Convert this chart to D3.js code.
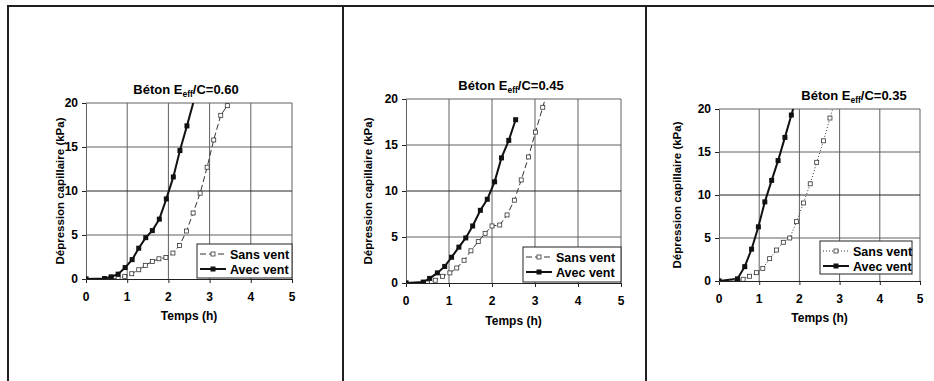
<!DOCTYPE html>
<html>
<head>
<meta charset="utf-8">
<script src="https://cdn.jsdelivr.net/npm/d3@7"></script>
<style>
  body { margin: 0; background: #fff; }
  svg { display: block; font-family: Arial, "Liberation Sans", sans-serif; }
</style>
</head>
<body>
<div class="chart"></div>
<script>
// --- data (temps en h, dépression en kPa)
const xTicks = [0, 1, 2, 3, 4, 5];
const yTicks = [0, 5, 10, 15, 20];
const seriesNames = ["Sans vent", "Avec vent"];
const titles = ["0.60", "0.45", "0.35"];

const sans060_t = [0, 0.45, 0.61, 0.78, 0.94, 1.11, 1.28, 1.44, 1.61, 1.77, 1.94, 2.11, 2.27, 2.44, 2.6, 2.77, 2.94, 3.1, 3.27, 3.43, 3.6];
const sans060_p = [0, 0, 0, 0.05, 0.3, 0.6, 1.05, 1.55, 2.0, 2.3, 2.45, 2.95, 3.8, 5.45, 7.5, 9.75, 12.7, 15.8, 18.6, 19.7, 23];
const avec060_t = [0, 0.45, 0.61, 0.78, 0.95, 1.12, 1.28, 1.45, 1.61, 1.78, 1.95, 2.12, 2.28, 2.45, 2.62];
const avec060_p = [0, 0.05, 0.25, 0.55, 1.3, 2.2, 3.5, 4.7, 5.5, 6.8, 9.1, 11.6, 14.6, 17.4, 20.3];

const sans045_t = [0, 0.5, 0.68, 0.85, 1.02, 1.18, 1.35, 1.51, 1.68, 1.84, 2.0, 2.18, 2.35, 2.52, 2.68, 2.85, 3.01, 3.18, 3.35];
const sans045_p = [0, 0, 0.3, 0.73, 1.1, 1.63, 2.47, 3.5, 4.5, 5.4, 6.2, 6.3, 7.4, 9.0, 11.2, 13.7, 16.4, 19.1, 21.8];
const avec045_t = [0, 0.4, 0.55, 0.73, 0.9, 1.06, 1.23, 1.39, 1.55, 1.73, 1.89, 2.06, 2.22, 2.39, 2.55];
const avec045_p = [0, 0.1, 0.5, 1.1, 1.8, 2.8, 3.9, 4.9, 6.2, 7.9, 9.1, 11.0, 13.6, 15.5, 17.75];

const sans035_t = [0, 0.43, 0.6, 0.76, 0.93, 1.09, 1.26, 1.43, 1.6, 1.76, 1.93, 2.1, 2.27, 2.43, 2.6, 2.76, 2.93];
const sans035_p = [0, 0, 0.2, 0.55, 0.97, 1.47, 2.6, 3.6, 4.5, 5.0, 6.9, 9.07, 11.3, 13.8, 16.3, 18.95, 21.6];
const avec035_t = [0, 0.46, 0.64, 0.81, 0.98, 1.14, 1.31, 1.47, 1.64, 1.8, 1.97];
const avec035_p = [0, 0.25, 1.67, 3.7, 6.3, 9.2, 11.7, 14.0, 16.7, 19.3, 22];

function zipPts(t, p) {
    return t.map((d, i) => ({t: d, p: p[i]}));
}

// page layout of each panel
const panels = [
    {x0: 86, x1: 292, y0: 279, y1: 103, titleX: 186, titleY: 94, tickY: 301, xtY: 320, ytX: 60,
     legend: [197, 244, 95, 34], dash: "6,3",
     sans: zipPts(sans060_t, sans060_p), avec: zipPts(avec060_t, avec060_p)},
    {x0: 406, x1: 621, y0: 283, y1: 99, titleX: 511, titleY: 90, tickY: 305, xtY: 325, ytX: 368,
     legend: [523, 247, 98, 35], dash: "6,3",
     sans: zipPts(sans045_t, sans045_p), avec: zipPts(avec045_t, avec045_p)},
    {x0: 719, x1: 920, y0: 281, y1: 109, titleX: 854, titleY: 100, tickY: 303, xtY: 322, ytX: 677,
     legend: [820, 241, 92, 33], dash: "1,2",
     sans: zipPts(sans035_t, sans035_p), avec: zipPts(avec035_t, avec035_p)}
];

const width = 934;
const height = 381;
const svg = d3.select('.chart')
    .append('svg')
    .attr('width', width)
    .attr('height', height);

svg.append('rect').attr('width', width).attr('height', height).attr('fill', '#fff');

// table frame
const frame = svg.append('g').attr('stroke', '#231f20').attr('stroke-width', 2);
frame.append('line').attr('x1', 7).attr('x2', width).attr('y1', 6).attr('y2', 6);
[8, 343, 646].forEach(x => {
    frame.append('line').attr('x1', x).attr('x2', x).attr('y1', 5).attr('y2', height);
});

panels.forEach((p, k) => {
    const x = d3.scaleLinear().domain([0, 5]).range([p.x0, p.x1]);
    const y = d3.scaleLinear().domain([0, 20]).range([p.y0, p.y1]);
    const g = svg.append('g');

    // grid
    g.selectAll('line.vgrid')
        .data(xTicks.slice(1))
        .enter()
        .append('line')
        .attr('class', 'vgrid')
        .attr('x1', d => x(d)).attr('x2', d => x(d))
        .attr('y1', y(0)).attr('y2', y(20))
        .attr('stroke', '#606060').attr('stroke-width', 1);
    g.selectAll('line.hgrid')
        .data(yTicks.slice(1))
        .enter()
        .append('line')
        .attr('class', 'hgrid')
        .attr('x1', x(0)).attr('x2', x(5))
        .attr('y1', d => y(d)).attr('y2', d => y(d))
        .attr('stroke', d => d === 10 ? '#222' : '#606060').attr('stroke-width', 1);

    // axes
    const xAxis = g.append('g')
        .attr('transform', `translate(0,${p.y0})`)
        .call(d3.axisBottom(x).tickValues(xTicks).tickSize(4).tickFormat(''));
    const yAxis = g.append('g')
        .attr('transform', `translate(${p.x0},0)`)
        .call(d3.axisLeft(y).tickValues(yTicks).tickSize(4).tickFormat(''));
    xAxis.select('.domain').attr('stroke', '#222');
    yAxis.select('.domain').attr('stroke', '#606060');
    xAxis.selectAll('.tick line').attr('stroke', '#222');
    yAxis.selectAll('.tick line').attr('stroke', '#222');

    g.selectAll('text.xt')
        .data(xTicks)
        .enter()
        .append('text')
        .attr('class', 'xt')
        .attr('x', d => x(d))
        .attr('y', p.tickY)
        .attr('text-anchor', 'middle')
        .attr('font-size', 12)
        .attr('font-weight', 'bold')
        .text(d => d);
    g.selectAll('text.yt')
        .data(yTicks)
        .enter()
        .append('text')
        .attr('class', 'yt')
        .attr('x', p.x0 - 8)
        .attr('y', d => y(d) + 4)
        .attr('text-anchor', 'end')
        .attr('font-size', 12)
        .attr('font-weight', 'bold')
        .text(d => d);

    // titles
    const title = g.append('text')
        .attr('x', p.titleX)
        .attr('y', p.titleY)
        .attr('text-anchor', 'middle')
        .attr('font-size', 13)
        .attr('font-weight', 'bold');
    title.append('tspan').text('Béton E');
    title.append('tspan').attr('font-size', 8.5).attr('dy', 3).text('eff');
    title.append('tspan').attr('dy', -3).text('/C=' + titles[k]);

    g.append('text')
        .attr('x', (p.x0 + p.x1) / 2)
        .attr('y', p.xtY)
        .attr('text-anchor', 'middle')
        .attr('font-size', 12)
        .attr('font-weight', 'bold')
        .text('Temps (h)');
    g.append('text')
        .attr('transform', `translate(${p.ytX},${(p.y0 + p.y1) / 2}) rotate(-90)`)
        .attr('dy', 4)
        .attr('text-anchor', 'middle')
        .attr('font-size', 11.5)
        .attr('font-weight', 'bold')
        .text('Dépression capillaire (kPa)');

    // series
    const clipId = 'clip' + k;
    svg.append('clipPath').attr('id', clipId)
        .append('rect')
        .attr('x', p.x0).attr('y', p.y1)
        .attr('width', p.x1 - p.x0).attr('height', p.y0 - p.y1);

    const line = d3.line().x(d => x(d.t)).y(d => y(d.p));

    const plot = g.append('g').attr('clip-path', `url(#${clipId})`);
    plot.append('path')
        .datum(p.sans)
        .attr('d', line)
        .attr('fill', 'none')
        .attr('stroke', '#333')
        .attr('stroke-width', 1)
        .attr('stroke-dasharray', p.dash);
    plot.append('path')
        .datum(p.avec)
        .attr('d', line)
        .attr('fill', 'none')
        .attr('stroke', '#111')
        .attr('stroke-width', 2);

    plot.selectAll('rect.sans')
        .data(p.sans.filter(d => d.p <= 20))
        .enter()
        .append('rect')
        .attr('class', 'sans')
        .attr('x', d => x(d.t) - 2)
        .attr('y', d => y(d.p) - 2)
        .attr('width', 4).attr('height', 4)
        .attr('fill', '#fff')
        .attr('stroke', '#333')
        .attr('stroke-width', 0.8);
    plot.selectAll('rect.avec')
        .data(p.avec.filter(d => d.p <= 20))
        .enter()
        .append('rect')
        .attr('class', 'avec')
        .attr('x', d => x(d.t) - 2.5)
        .attr('y', d => y(d.p) - 2.5)
        .attr('width', 5).attr('height', 5)
        .attr('fill', '#111');

    // legend
    const [lx, ly, lw, lh] = p.legend;
    const leg = g.append('g');
    leg.append('rect')
        .attr('x', lx).attr('y', ly).attr('width', lw).attr('height', lh)
        .attr('fill', '#fff').attr('stroke', '#222').attr('stroke-width', 1);
    seriesNames.forEach((name, i) => {
        const cy = ly + 10 + i * 15;
        leg.append('line')
            .attr('x1', lx + 3).attr('x2', lx + 29)
            .attr('y1', cy).attr('y2', cy)
            .attr('stroke', i === 0 ? '#333' : '#111')
            .attr('stroke-width', i === 0 ? 1 : 2)
            .attr('stroke-dasharray', i === 0 ? p.dash : null);
        if (i === 0) {
            leg.append('rect').attr('x', lx + 14).attr('y', cy - 2).attr('width', 4).attr('height', 4)
                .attr('fill', '#fff').attr('stroke', '#333').attr('stroke-width', 0.8);
        } else {
            leg.append('rect').attr('x', lx + 13.5).attr('y', cy - 2.5).attr('width', 5).attr('height', 5)
                .attr('fill', '#111');
        }
        leg.append('text')
            .attr('x', lx + 33)
            .attr('y', cy + 4.5)
            .attr('font-size', 12.5)
            .attr('font-weight', 'bold')
            .text(name);
    });
});
</script>
</body>
</html>
